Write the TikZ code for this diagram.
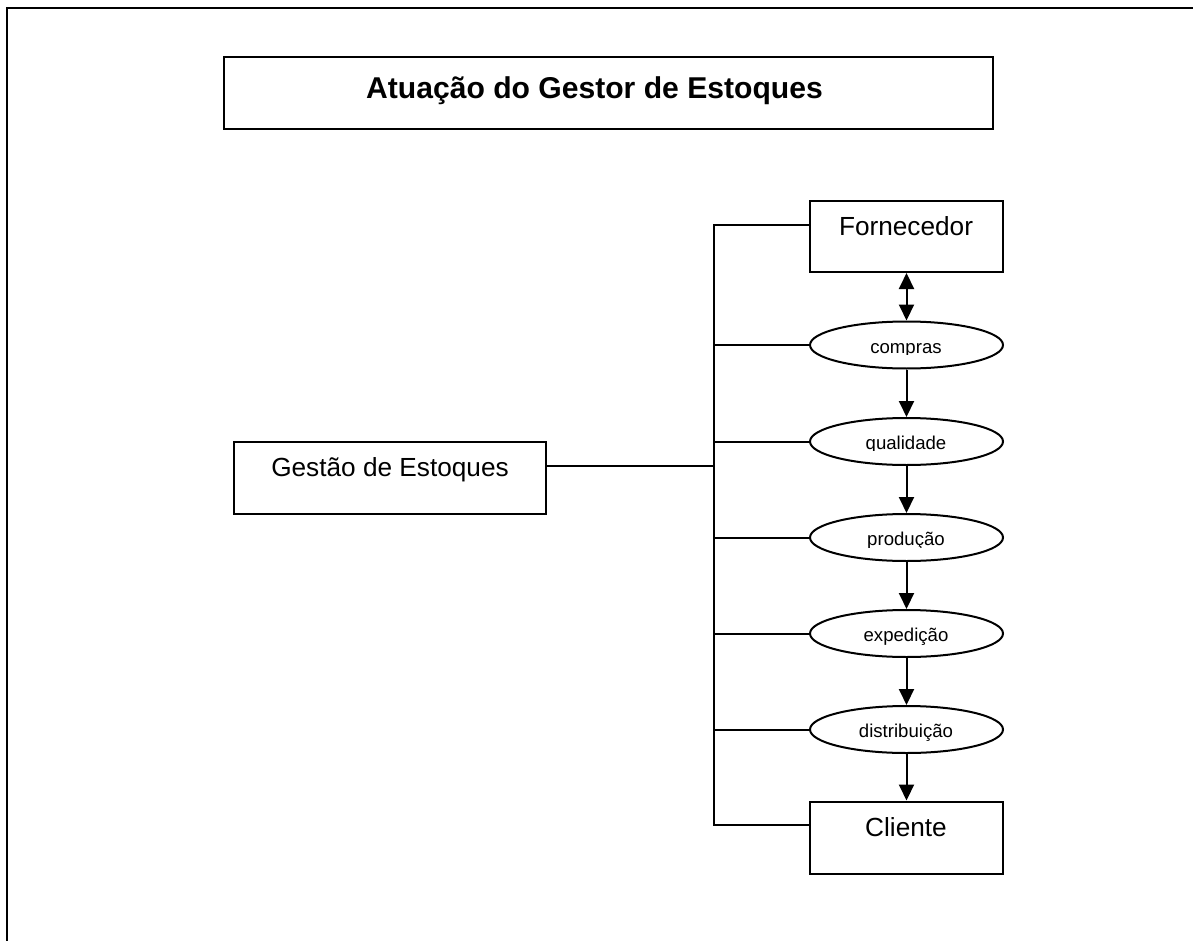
\documentclass[tikz,border=0pt]{standalone}
\usepackage{fontspec}
\setmainfont{Liberation Sans}
\usetikzlibrary{arrows.meta,shapes.geometric}
\tikzset{
  x=1pt,y=-1pt,
  ink/.style={draw=black,line width=2pt},
  boxnode/.style={ink,rectangle,inner sep=0pt,minimum width=#1,fill=white},
  ovalnode/.style={ink,ellipse,inner sep=0pt,minimum width=193pt,minimum height=47pt},
  link/.style={draw=black,line width=2pt},
  flow/.style={link,-{Triangle[length=16pt,width=15pt]}},
  both/.style={link,{Triangle[length=16pt,width=15pt]}-{Triangle[length=16pt,width=15pt]}},
  big/.style={anchor=base,inner sep=0pt,font=\fontsize{26.2pt}{30pt}\selectfont},
  small/.style={anchor=base,inner sep=0pt,font=\fontsize{18.6pt}{22pt}\selectfont},
}
\begin{document}
\begin{tikzpicture}
\useasboundingbox (0,0) rectangle (1193,941);
\fill[white] (0,0) rectangle (1193,941);
% page frame, open on the right and bottom
\coordinate (frameA) at (7,941);
\coordinate (frameB) at (7,8);
\coordinate (frameC) at (1193,8);
\draw[link] (frameA) -- (frameB) -- (frameC);
% boxes
\node[boxnode=769pt,minimum height=72pt] (titlebox) at (608.5,93) {};
\node[anchor=base,inner sep=0pt,font=\fontsize{30.1pt}{34pt}\selectfont\bfseries] (titletext) at (594.5,99) {Atuação do Gestor de Estoques};
\node[boxnode=312pt,minimum height=72pt] (gestao) at (390,478) {};
\node[big] (gestaotext) at (390,476) {Gestão de Estoques};
\node[boxnode=193pt,minimum height=71pt] (forn) at (906.5,236.5) {};
\node[big] (forntext) at (906,235.7) {Fornecedor};
\node[boxnode=193pt,minimum height=72pt] (cliente) at (906.5,837.5) {};
\node[big] (clientetext) at (906,836.7) {Cliente};
% ellipses
\node[ovalnode] (compras) at (906.5,345) {};
\node[ovalnode] (qualidade) at (906.5,441.5) {};
\node[ovalnode] (producao) at (906.5,537.5) {};
\node[ovalnode] (expedicao) at (906.5,633.5) {};
\node[ovalnode] (distrib) at (906.5,729.5) {};
% labels, cut off at the baseline where the source cuts them
\begin{scope}
\clip (800,300) rectangle (1010,354);
\node[small] (comprastext) at (906,353) {compras};
\end{scope}
\begin{scope}
\clip (800,400) rectangle (1010,450);
\node[small] (qualidadetext) at (906,449) {qualidade};
\end{scope}
\begin{scope}
\clip (800,500) rectangle (1010,547);
\node[small] (producaotext) at (906,545) {produção};
\end{scope}
\node[small] (expedicaotext) at (906,641.7) {expedição};
\node[small] (distribtext) at (906,737.7) {distribuição};
% trunk
\coordinate (trunkT) at (714,225);
\coordinate (trunkB) at (714,825);
\draw[link] (forn.west |- trunkT) -- (trunkT) -- (trunkB) -- (cliente.west |- trunkB);
\draw[link] (gestao.east |- 0,466) -- (714,466);
\foreach \n in {compras,qualidade,producao,expedicao,distrib}
  \draw[link] (\n.west) -- (\n.west -| trunkT);
% flow
\draw[both] (forn.south) -- (compras.north);
\draw[flow] (compras.south) -- (qualidade.north);
\draw[flow] (qualidade.south) -- (producao.north);
\draw[flow] (producao.south) -- (expedicao.north);
\draw[flow] (expedicao.south) -- (distrib.north);
\draw[flow] (distrib.south) -- (cliente.north);
\end{tikzpicture}
\end{document}
